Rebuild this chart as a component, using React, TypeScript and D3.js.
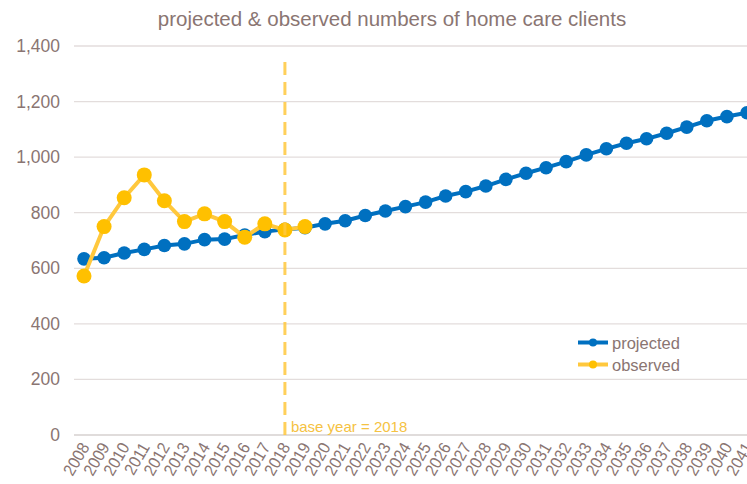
import React from 'react';
import * as d3 from 'd3';

// years on the x axis
const years: number[] = d3.range(2008, 2042);

// projected clients, 2008-2041
const projected: number[] = [
  634, 638, 655, 668, 682, 688, 703, 705, 720, 732, 740, 746, 760, 771, 790, 806,
  822, 838, 860, 876, 896, 920, 942, 962, 984, 1008, 1030, 1050, 1066, 1086, 1108, 1131,
  1146, 1160,
];

// observed clients, 2008-2019
const observed: number[] = [572, 750, 854, 936, 843, 768, 796, 768, 712, 760, 738, 750];

const yTicks: number[] = [0, 200, 400, 600, 800, 1000, 1200, 1400];
const baseYear = 2018;

const W = 747;
const H = 484;
const FONT = "'Liberation Sans Narrow', 'Arial Narrow', 'Liberation Sans', sans-serif";
const TEXT = '#8a7572';
const BLUE = '#0070c0';
const GOLD = '#ffc000';

export default function App() {
  const x = d3.scaleLinear().domain([2008, 2041]).range([84, 747]);
  const y = d3.scaleLinear().domain([0, 1400]).range([435, 46]);

  const line = d3
    .line<[number, number]>()
    .x((d) => x(d[0]))
    .y((d) => y(d[1]));

  const projPts: [number, number][] = projected.map((v, i) => [years[i], v]);
  const obsPts: [number, number][] = observed.map((v, i) => [years[i], v]);

  return (
    <svg
      width={W}
      height={H}
      style={{ position: 'absolute', left: 0, top: 0, background: '#fff' }}
      fontFamily={FONT}
    >
      {/* title */}
      <text x={392} y={26} textAnchor="middle" fontSize={20.5} fill={TEXT}>
        projected &amp; observed numbers of home care clients
      </text>

      {/* grid + y labels */}
      {yTicks.map((t) => (
        <g key={t}>
          <line x1={74} x2={W} y1={y(t)} y2={y(t)} stroke={t === 0 ? '#d6d0cf' : '#e3dddc'} strokeWidth={1.3} />
          <text x={60} y={y(t) + 6} textAnchor="end" fontSize={17.5} fill={TEXT}>
            {d3.format(',')(t)}
          </text>
        </g>
      ))}

      {/* x labels */}
      {years.map((yr) => (
        <text
          key={yr}
          transform={`translate(${x(yr) + 6},${447}) rotate(-60) scale(0.92,1)`}
          textAnchor="end"
          fontSize={17}
          fill={TEXT}
        >
          {yr}
        </text>
      ))}

      {/* projected */}
      <path d={line(projPts) || ''} fill="none" stroke={BLUE} strokeWidth={4} />
      {projPts.map((d) => (
        <circle key={'p' + d[0]} cx={x(d[0])} cy={y(d[1])} r={6.8} fill={BLUE} />
      ))}

      {/* observed */}
      <path d={line(obsPts) || ''} fill="none" stroke="#ffc83d" strokeWidth={4} />
      {obsPts.map((d) => (
        <circle key={'o' + d[0]} cx={x(d[0])} cy={y(d[1])} r={7.5} fill={GOLD} />
      ))}

      {/* base year marker */}
      <line
        x1={x(baseYear)}
        x2={x(baseYear)}
        y1={62}
        y2={y(0)}
        stroke="#ffc83d"
        strokeOpacity={0.85}
        strokeWidth={3}
        strokeDasharray="13,7"
      />
      <text x={x(baseYear) + 6} y={432} fontSize={15} fill="#f5c242">
        base year = {baseYear}
      </text>

      {/* legend */}
      <g>
        <line x1={578} x2={608} y1={342.5} y2={342.5} stroke={BLUE} strokeWidth={4} />
        <circle cx={593} cy={342.5} r={4} fill={BLUE} />
        <text x={612} y={348.5} fontSize={16.5} fill={TEXT}>projected</text>
        <line x1={578} x2={608} y1={364.5} y2={364.5} stroke="#ffc83d" strokeWidth={4} />
        <circle cx={593} cy={364.5} r={4} fill={GOLD} />
        <text x={612} y={370.5} fontSize={16.5} fill={TEXT}>observed</text>
      </g>
    </svg>
  );
}
